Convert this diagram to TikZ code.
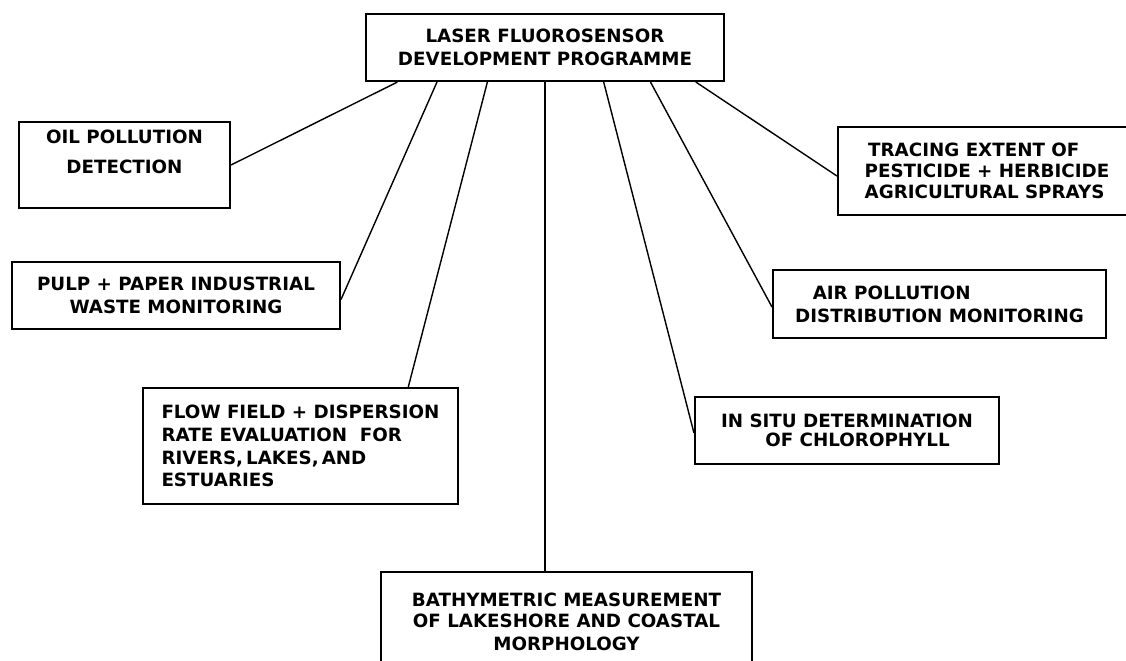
\documentclass[tikz,border=0pt]{standalone}
\usepackage{fontspec}
\setmainfont{DejaVu Sans}
\usetikzlibrary{calc}

\tikzset{
  topic/.style={draw,line width=1.2pt,inner sep=0pt,
    font=\fontsize{10.4}{13}\selectfont\bfseries},
  link/.style={thick}
}

\begin{document}
\begin{tikzpicture}[x=0.02cm,y=-0.02cm]
  \clip (0,0) rectangle (1126,660);
  \fill[white] (0,0) rectangle (1126,660);

  \node[topic,minimum width=7.16cm,minimum height=1.34cm,align=center]
    (prog) at (545,47.5) {LASER FLUOROSENSOR\\DEVELOPMENT PROGRAMME};

  \node[topic,minimum width=4.22cm,minimum height=1.72cm,align=center]
    (oil) at (124.5,165) {OIL POLLUTION\\[4pt]DETECTION\\[2pt]\mbox{}};
  \node[topic,minimum width=6.56cm,minimum height=1.34cm,align=center]
    (pulp) at (176,295.5) {PULP + PAPER INDUSTRIAL\\WASTE MONITORING};
  \node[topic,minimum width=6.3cm,minimum height=2.32cm,align=left]
    (flow) at (300.5,446) {FLOW FIELD + DISPERSION\\RATE EVALUATION\ \ FOR\\
      RIVERS,\,LAKES,\,AND\\ESTUARIES};
  \node[topic,minimum width=7.42cm,minimum height=2cm,align=center]
    (bath) at (566.5,622) {BATHYMETRIC MEASUREMENT\\[-1pt]
      OF LAKESHORE AND COASTAL\\MORPHOLOGY};

  \node[topic,minimum width=5.96cm,minimum height=1.76cm,align=left]
    (trace) at (987,171) {\hspace{2pt}TRACING EXTENT OF\\[-1pt]
      PESTICIDE + HERBICIDE\\[-1pt]AGRICULTURAL SPRAYS};
  \node[topic,minimum width=6.66cm,minimum height=1.36cm,align=left]
    (air) at (939.5,304) {\hspace{10pt}AIR POLLUTION\\DISTRIBUTION MONITORING};
  \node[topic,minimum width=6.08cm,minimum height=1.34cm,align=center]
    (insitu) at (847,430.5) {IN SITU DETERMINATION\\[-2pt]\hspace{12pt}OF CHLOROPHYLL};

  % spokes
  \draw[link] ($(prog.south west)!0.09!(prog.south east)$) -- (oil.east);
  \draw[link] ($(prog.south west)!0.2!(prog.south east)$) -- ([yshift=-0.08cm]pulp.east);
  \draw[link] ($(prog.south west)!0.34!(prog.south east)$)
    -- ($(flow.north west)!0.84!(flow.north east)$);
  \draw[link] (prog.south) -- (prog.south |- bath.north);
  \draw[link] ($(prog.south west)!0.663!(prog.south east)$) -- ([yshift=-0.05cm]insitu.west);
  \draw[link] ($(prog.south west)!0.793!(prog.south east)$) -- ([yshift=-0.06cm]air.west);
  \draw[link] ($(prog.south west)!0.919!(prog.south east)$) -- ([yshift=-0.1cm]trace.west);
\end{tikzpicture}
\end{document}
